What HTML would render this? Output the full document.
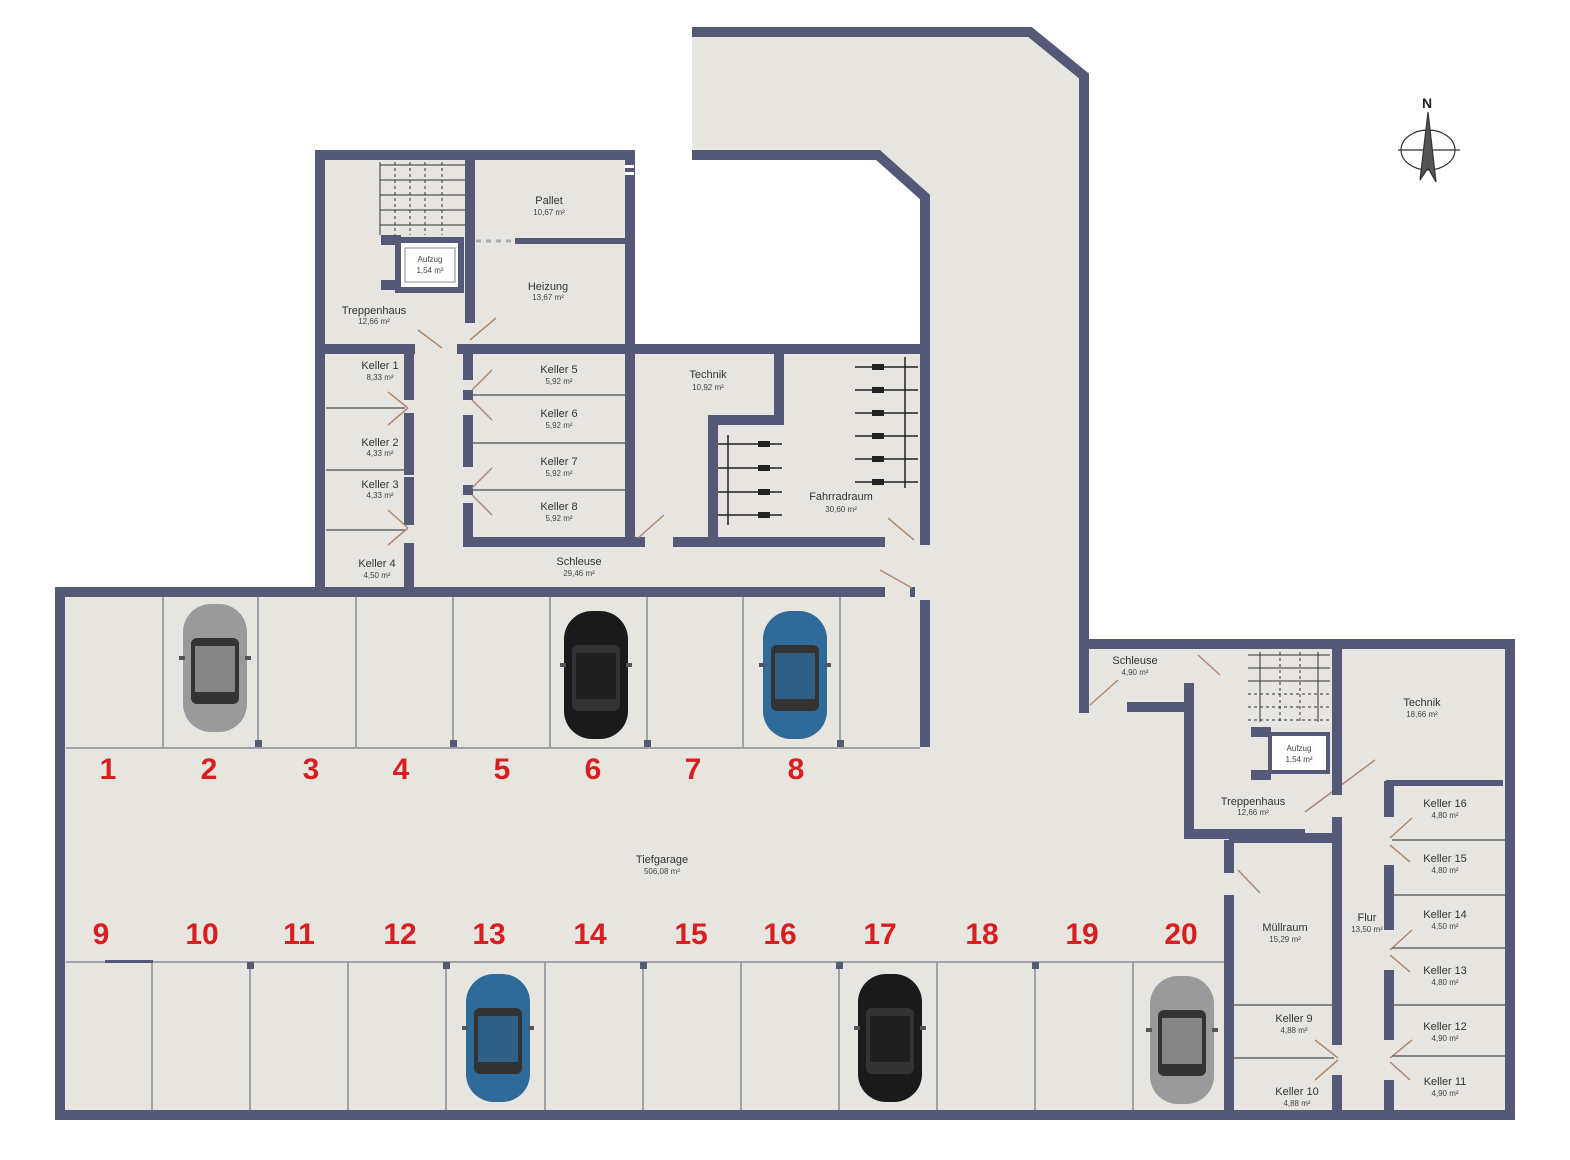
<!DOCTYPE html>
<html><head><meta charset="utf-8"><style>
html,body{margin:0;padding:0;background:#fff;width:1570px;height:1160px;overflow:hidden}
svg{display:block}
.t{font-family:"Liberation Sans",sans-serif;font-size:11px;fill:#333;text-anchor:middle}
.s{font-family:"Liberation Sans",sans-serif;font-size:8px;fill:#444;text-anchor:middle}
.n{font-family:"Liberation Sans",sans-serif;font-size:30px;font-weight:bold;fill:#d81e1e;text-anchor:middle}
.w{stroke:#535977;stroke-width:10;fill:none;stroke-linecap:square}
.l{stroke:#8a8c94;stroke-width:1.5;fill:none}
.d{stroke:#b08a70;stroke-width:1.5}
</style></head><body>
<svg width="1570" height="1160" viewBox="0 0 1570 1160">
<defs>
<g id="car">
<rect x="-32" y="-64" width="64" height="128" rx="28" fill="currentColor"/>
<rect x="-24" y="-30" width="48" height="66" rx="6" fill="#333"/>
<rect x="-20" y="-22" width="40" height="46" fill="currentColor" opacity=".8"/>
<rect x="-36" y="-12" width="6" height="4" fill="#555"/><rect x="30" y="-12" width="6" height="4" fill="#555"/>
</g>
</defs>
<!-- floor fill -->
<polygon fill="#e7e5df" points="60,1115 60,592 320,592 320,155 630,155 630,350 925,350 925,197 878,155 692,155 692,28 1030,32 1084,76 1084,644 1510,644 1510,1115"/>
<!-- outer walls -->
<polyline class="w" points="60,592 60,1115 1510,1115 1510,644 1084,644"/>
<polyline class="w" points="60,592 880,592"/>
<polyline class="w" points="915,592 925,592"/>
<polyline class="w" points="320,592 320,155 630,155 630,345"/>
<polyline class="w" points="697,32 1030,32 1084,76 1084,708"/>
<polyline class="w" points="697,155 878,155 925,197 925,742"/>
<rect x="915" y="545" width="20" height="55" fill="#e7e5df"/>
<polyline class="w" points="326,349 410,349"/>
<polyline class="w" points="462,349 925,349"/>
<!-- upper block interior -->
<line class="w" x1="470" y1="158" x2="470" y2="318"/>
<line class="w" x1="518" y1="241" x2="625" y2="241" style="stroke-width:6"/>
<line x1="476" y1="241" x2="515" y2="241" stroke="#aaa" stroke-width="3" stroke-dasharray="5,5"/>
<rect x="398" y="240" width="63" height="50" fill="#fff" stroke="#535977" stroke-width="6"/>
<rect x="405" y="248" width="50" height="34" fill="none" stroke="#888" stroke-width="1"/>
<text class="s" x="430" y="262" font-size="10">Aufzug</text><text class="s" x="430" y="273">1,54 m²</text>
<line class="w" x1="386" y1="240" x2="396" y2="240"/><line class="w" x1="386" y1="285" x2="396" y2="285"/>
<g stroke="#333" stroke-width="1">
<line x1="380" y1="165" x2="465" y2="165"/><line x1="380" y1="180" x2="465" y2="180"/><line x1="380" y1="195" x2="465" y2="195"/><line x1="380" y1="210" x2="465" y2="210"/><line x1="380" y1="225" x2="465" y2="225"/>
<line x1="380" y1="162" x2="380" y2="235"/><line x1="395" y1="162" x2="395" y2="235" stroke-dasharray="3,3"/><line x1="410" y1="162" x2="410" y2="235" stroke-dasharray="3,3"/><line x1="425" y1="162" x2="425" y2="235" stroke-dasharray="3,3"/><line x1="442" y1="162" x2="442" y2="235" stroke-dasharray="3,3"/>
</g>
<rect x="624" y="165" width="10" height="3" fill="#fff"/><rect x="624" y="172" width="10" height="3" fill="#fff"/>
<!-- keller corridor -->
<polyline class="w" points="409,353 409,395"/><polyline class="w" points="409,418 409,470"/><polyline class="w" points="409,482 409,520"/><polyline class="w" points="409,548 409,588"/>
<polyline class="w" points="468,353 468,375"/><polyline class="w" points="468,420 468,462"/><polyline class="w" points="468,508 468,542 640,542"/>
<polyline class="w" points="468,395 468,395"/><polyline class="w" points="468,490 468,490"/>
<polyline class="w" points="678,542 880,542"/>
<polyline class="w" points="630,349 630,542"/>
<g class="l" style="stroke:#666"><line x1="326" y1="408" x2="405" y2="408"/><line x1="326" y1="470" x2="405" y2="470"/><line x1="326" y1="530" x2="405" y2="530"/>
<line x1="473" y1="395" x2="625" y2="395"/><line x1="473" y1="443" x2="625" y2="443"/><line x1="473" y1="490" x2="625" y2="490"/></g>
<!-- technik -->
<polyline class="w" points="779,353 779,420 713,420 713,540"/>
<!-- door swings -->
<g class="d"><line x1="418" y1="330" x2="442" y2="348"/><line x1="470" y1="340" x2="496" y2="318"/><line x1="388" y1="392" x2="408" y2="408"/><line x1="388" y1="425" x2="408" y2="408"/><line x1="388" y1="510" x2="408" y2="528"/><line x1="388" y1="545" x2="408" y2="528"/><line x1="472" y1="390" x2="492" y2="370"/><line x1="472" y1="400" x2="492" y2="420"/><line x1="472" y1="488" x2="492" y2="468"/><line x1="472" y1="495" x2="492" y2="515"/><line x1="638" y1="538" x2="664" y2="515"/><line x1="888" y1="518" x2="914" y2="540"/><line x1="880" y1="570" x2="912" y2="588"/>
<line x1="1090" y1="705" x2="1118" y2="680"/><line x1="1198" y1="655" x2="1220" y2="675"/><line x1="1305" y1="812" x2="1375" y2="760"/><line x1="1238" y1="870" x2="1260" y2="893"/><line x1="1390" y1="838" x2="1412" y2="818"/><line x1="1390" y1="845" x2="1410" y2="862"/><line x1="1390" y1="950" x2="1412" y2="930"/><line x1="1390" y1="955" x2="1410" y2="972"/><line x1="1390" y1="1058" x2="1412" y2="1040"/><line x1="1390" y1="1062" x2="1410" y2="1080"/><line x1="1315" y1="1040" x2="1338" y2="1058"/><line x1="1315" y1="1080" x2="1338" y2="1060"/></g>
<!-- bikes -->
<g stroke="#222" stroke-width="1.5">
<line x1="905" y1="357" x2="905" y2="488"/><line x1="728" y1="435" x2="728" y2="525"/>
<line x1="855" y1="367" x2="918" y2="367"/><line x1="855" y1="390" x2="918" y2="390"/><line x1="855" y1="413" x2="918" y2="413"/><line x1="855" y1="436" x2="918" y2="436"/><line x1="855" y1="459" x2="918" y2="459"/><line x1="855" y1="482" x2="918" y2="482"/>
<line x1="718" y1="444" x2="782" y2="444"/><line x1="718" y1="468" x2="782" y2="468"/><line x1="718" y1="492" x2="782" y2="492"/><line x1="718" y1="515" x2="782" y2="515"/>
</g>
<g fill="#222"><rect x="872" y="364" width="12" height="6"/><rect x="872" y="387" width="12" height="6"/><rect x="872" y="410" width="12" height="6"/><rect x="872" y="433" width="12" height="6"/><rect x="872" y="456" width="12" height="6"/><rect x="872" y="479" width="12" height="6"/><rect x="758" y="441" width="12" height="6"/><rect x="758" y="465" width="12" height="6"/><rect x="758" y="489" width="12" height="6"/><rect x="758" y="512" width="12" height="6"/></g>
<!-- labels upper -->
<text class="t" x="549" y="204">Pallet</text><text class="s" x="549" y="215">10,67 m²</text>
<text class="t" x="548" y="290">Heizung</text><text class="s" x="548" y="300">13,67 m²</text>
<text class="t" x="374" y="314">Treppenhaus</text><text class="s" x="374" y="324">12,66 m²</text>
<text class="t" x="380" y="369">Keller 1</text><text class="s" x="380" y="380">8,33 m²</text>
<text class="t" x="380" y="446">Keller 2</text><text class="s" x="380" y="456">4,33 m²</text>
<text class="t" x="380" y="488">Keller 3</text><text class="s" x="380" y="498">4,33 m²</text>
<text class="t" x="377" y="567">Keller 4</text><text class="s" x="377" y="578">4,50 m²</text>
<text class="t" x="559" y="373">Keller 5</text><text class="s" x="559" y="384">5,92 m²</text>
<text class="t" x="559" y="417">Keller 6</text><text class="s" x="559" y="428">5,92 m²</text>
<text class="t" x="559" y="465">Keller 7</text><text class="s" x="559" y="476">5,92 m²</text>
<text class="t" x="559" y="510">Keller 8</text><text class="s" x="559" y="521">5,92 m²</text>
<text class="t" x="708" y="378">Technik</text><text class="s" x="708" y="390">10,92 m²</text>
<text class="t" x="841" y="500">Fahrradraum</text><text class="s" x="841" y="512">30,60 m²</text>
<text class="t" x="579" y="565">Schleuse</text><text class="s" x="579" y="576">29,46 m²</text>
<!-- parking top row -->
<g class="l"><line x1="163" y1="597" x2="163" y2="747"/><line x1="258" y1="597" x2="258" y2="747"/><line x1="356" y1="597" x2="356" y2="747"/><line x1="453" y1="597" x2="453" y2="747"/><line x1="550" y1="597" x2="550" y2="747"/><line x1="647" y1="597" x2="647" y2="747"/><line x1="743" y1="597" x2="743" y2="747"/><line x1="840" y1="597" x2="840" y2="747"/><line x1="66" y1="748" x2="920" y2="748"/>
<line x1="66" y1="962" x2="1228" y2="962"/>
<line x1="152" y1="962" x2="152" y2="1110"/><line x1="250" y1="962" x2="250" y2="1110"/><line x1="348" y1="962" x2="348" y2="1110"/><line x1="446" y1="962" x2="446" y2="1110"/><line x1="545" y1="962" x2="545" y2="1110"/><line x1="643" y1="962" x2="643" y2="1110"/><line x1="741" y1="962" x2="741" y2="1110"/><line x1="839" y1="962" x2="839" y2="1110"/><line x1="937" y1="962" x2="937" y2="1110"/><line x1="1035" y1="962" x2="1035" y2="1110"/><line x1="1133" y1="962" x2="1133" y2="1110"/></g>
<g fill="#535977"><rect x="255" y="740" width="7" height="7"/><rect x="450" y="740" width="7" height="7"/><rect x="644" y="740" width="7" height="7"/><rect x="837" y="740" width="7" height="7"/>
<rect x="247" y="962" width="7" height="7"/><rect x="443" y="962" width="7" height="7"/><rect x="640" y="962" width="7" height="7"/><rect x="836" y="962" width="7" height="7"/><rect x="1032" y="962" width="7" height="7"/>
<rect x="105" y="1110" width="48" height="10"/><rect x="105" y="960" width="48" height="3"/></g>
<text class="n" x="108" y="779">1</text><text class="n" x="209" y="779">2</text><text class="n" x="311" y="779">3</text><text class="n" x="401" y="779">4</text><text class="n" x="502" y="779">5</text><text class="n" x="593" y="779">6</text><text class="n" x="693" y="779">7</text><text class="n" x="796" y="779">8</text>
<text class="n" x="101" y="944">9</text><text class="n" x="202" y="944">10</text><text class="n" x="299" y="944">11</text><text class="n" x="400" y="944">12</text><text class="n" x="489" y="944">13</text><text class="n" x="590" y="944">14</text><text class="n" x="691" y="944">15</text><text class="n" x="780" y="944">16</text><text class="n" x="880" y="944">17</text><text class="n" x="982" y="944">18</text><text class="n" x="1082" y="944">19</text><text class="n" x="1181" y="944">20</text>
<text class="t" x="662" y="863">Tiefgarage</text><text class="s" x="662" y="874">506,08 m²</text>
<!-- cars -->
<use href="#car" x="215" y="668" style="color:#9a9a9a"/>
<use href="#car" x="596" y="675" style="color:#1a1a1a"/>
<use href="#car" x="795" y="675" style="color:#2e6a9a"/>
<use href="#car" x="498" y="1038" style="color:#2e6a9a"/>
<use href="#car" x="890" y="1038" style="color:#1a1a1a"/>
<use href="#car" x="1182" y="1040" style="color:#9a9a9a"/>
<!-- right section -->
<polyline class="w" points="1132,707 1189,707"/>
<polyline class="w" points="1189,688 1189,834 1300,834"/>
<polyline class="w" points="1337,648 1337,790"/>
<polyline class="w" points="1337,822 1337,834"/>
<polyline class="w" points="1337,840 1337,1040"/><polyline class="w" points="1337,1080 1337,1110"/>
<polyline class="w" points="1229,845 1229,868"/><polyline class="w" points="1229,900 1229,1110"/>
<polyline class="w" points="1234,838 1337,838"/>
<polyline class="w" points="1389,786 1389,812"/><polyline class="w" points="1389,870 1389,925"/><polyline class="w" points="1389,975 1389,1035"/><polyline class="w" points="1389,1085 1389,1110"/>
<line class="w" x1="1389" y1="783" x2="1500" y2="783" style="stroke-width:6"/>
<g class="l" style="stroke:#666"><line x1="1392" y1="840" x2="1505" y2="840"/><line x1="1392" y1="895" x2="1505" y2="895"/><line x1="1392" y1="948" x2="1505" y2="948"/><line x1="1392" y1="1005" x2="1505" y2="1005"/><line x1="1392" y1="1056" x2="1505" y2="1056"/><line x1="1233" y1="1005" x2="1334" y2="1005"/><line x1="1233" y1="1058" x2="1334" y2="1058"/></g>
<rect x="1270" y="734" width="58" height="38" fill="#fff" stroke="#535977" stroke-width="4"/>
<text class="s" x="1299" y="751" font-size="10">Aufzug</text><text class="s" x="1299" y="762">1,54 m²</text>
<line class="w" x1="1256" y1="732" x2="1266" y2="732"/><line class="w" x1="1256" y1="775" x2="1266" y2="775"/>
<g stroke="#333" stroke-width="1">
<line x1="1248" y1="655" x2="1330" y2="655"/><line x1="1248" y1="668" x2="1330" y2="668"/><line x1="1248" y1="681" x2="1330" y2="681"/><line x1="1248" y1="694" x2="1330" y2="694" stroke-dasharray="3,3"/><line x1="1248" y1="707" x2="1330" y2="707" stroke-dasharray="3,3"/><line x1="1248" y1="720" x2="1330" y2="720" stroke-dasharray="3,3"/>
<line x1="1260" y1="652" x2="1260" y2="722"/><line x1="1280" y1="652" x2="1280" y2="722" stroke-dasharray="3,3"/><line x1="1300" y1="652" x2="1300" y2="722" stroke-dasharray="3,3"/><line x1="1318" y1="652" x2="1318" y2="722"/></g>
<text class="t" x="1135" y="664">Schleuse</text><text class="s" x="1135" y="675">4,90 m²</text>
<text class="t" x="1422" y="706">Technik</text><text class="s" x="1422" y="717">18,66 m²</text>
<text class="t" x="1253" y="805">Treppenhaus</text><text class="s" x="1253" y="815">12,66 m²</text>
<text class="t" x="1285" y="931">Müllraum</text><text class="s" x="1285" y="942">15,29 m²</text>
<text class="t" x="1367" y="921">Flur</text><text class="s" x="1367" y="932">13,50 m²</text>
<text class="t" x="1445" y="807">Keller 16</text><text class="s" x="1445" y="818">4,80 m²</text>
<text class="t" x="1445" y="862">Keller 15</text><text class="s" x="1445" y="873">4,80 m²</text>
<text class="t" x="1445" y="918">Keller 14</text><text class="s" x="1445" y="929">4,50 m²</text>
<text class="t" x="1445" y="974">Keller 13</text><text class="s" x="1445" y="985">4,80 m²</text>
<text class="t" x="1445" y="1030">Keller 12</text><text class="s" x="1445" y="1041">4,90 m²</text>
<text class="t" x="1445" y="1085">Keller 11</text><text class="s" x="1445" y="1096">4,90 m²</text>
<text class="t" x="1294" y="1022">Keller 9</text><text class="s" x="1294" y="1033">4,88 m²</text>
<text class="t" x="1297" y="1095">Keller 10</text><text class="s" x="1297" y="1106">4,88 m²</text>
<!-- compass -->
<g stroke="#333" fill="none" stroke-width="1.2">
<ellipse cx="1428" cy="150" rx="27" ry="20"/><line x1="1398" y1="150" x2="1460" y2="150"/>
<polygon points="1428,112 1420,180 1428,168 1436,182" fill="#555"/></g>
<text x="1427" y="108" font-family="Liberation Sans,sans-serif" font-size="14" font-weight="bold" text-anchor="middle" fill="#222">N</text>
</svg>
</body></html>
